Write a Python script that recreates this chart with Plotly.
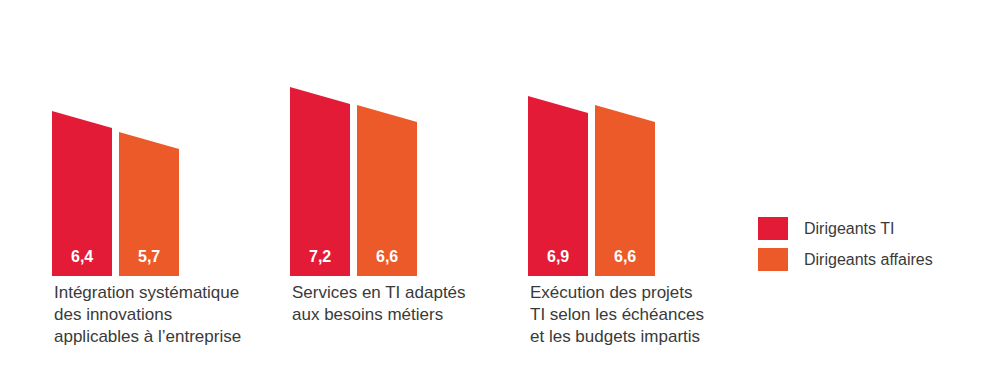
import plotly.graph_objects as go

categories = [
    "Intégration systématique<br>des innovations<br>applicables à l’entreprise",
    "Services en TI adaptés<br>aux besoins métiers",
    "Exécution des projets<br>TI selon les échéances<br>et les budgets impartis",
]
series_names = ["Dirigeants TI", "Dirigeants affaires"]
it_values = [6.4, 7.2, 6.9]
business_values = [5.7, 6.6, 6.6]
value_labels_it = ["6,4", "7,2", "6,9"]
value_labels_business = ["5,7", "6,6", "6,6"]

colors = ["#E31B37", "#EC5A2A"]
text_color = "#3a3a3a"
font_family = "Liberation Sans, Arial, sans-serif"

# layout constants (page has an 8px body offset)
OFF = 8
PLOT_H = 268
Y_MIN, Y_MAX = 0.9, 9.83
GROUP_START, GROUP_STEP = 52, 238
BAR_W, BAR_GAP = 60, 7
SLANT = 0.57


def py(screen_y):
    return 1 - (screen_y - OFF) / PLOT_H


fig = go.Figure()
annotations = []
series = [(it_values, value_labels_it), (business_values, value_labels_business)]
for gi, cat in enumerate(categories):
    gx = GROUP_START + gi * GROUP_STEP
    for si, (vals, labs) in enumerate(series):
        x0 = gx + si * (BAR_W + BAR_GAP)
        x1 = x0 + BAR_W
        v = vals[gi]
        fig.add_trace(go.Scatter(
            x=[x0, x0, x1, x1, x0],
            y=[Y_MIN, v, v - SLANT, Y_MIN, Y_MIN],
            fill="toself", fillcolor=colors[si], mode="lines",
            line=dict(width=0, color=colors[si]),
            name=series_names[si], showlegend=False, hoverinfo="skip",
        ))
        annotations.append(dict(
            x=(x0 + x1) / 2, y=py(256), xref="x", yref="paper",
            text=f"<b>{labs[gi]}</b>", showarrow=False,
            font=dict(color="white", size=16, family=font_family),
            xanchor="center", yanchor="middle",
        ))
    annotations.append(dict(
        x=gx, y=0, xref="x", yref="paper", text=cat, showarrow=False,
        xanchor="left", yanchor="top", align="left", yshift=-5,
        font=dict(color=text_color, size=17, family=font_family),
    ))

shapes = []
for si, name in enumerate(series_names):
    top = 217 + si * 31
    shapes.append(dict(
        type="rect", xref="x", yref="paper",
        x0=758, x1=788, y0=py(top + 23), y1=py(top),
        fillcolor=colors[si], line=dict(width=0),
    ))
    annotations.append(dict(
        x=802, y=py(top + 11.5), xref="x", yref="paper",
        text=name, showarrow=False, xanchor="left", yanchor="middle",
        font=dict(color=text_color, size=16, family=font_family),
    ))

fig.update_layout(
    width=1000, height=381,
    margin=dict(l=0, r=0, t=0, b=381 - PLOT_H),
    paper_bgcolor="white", plot_bgcolor="white",
    xaxis=dict(range=[OFF, 1000 + OFF], visible=False, fixedrange=True),
    yaxis=dict(range=[Y_MIN, Y_MAX], visible=False, fixedrange=True),
    annotations=annotations, shapes=shapes, showlegend=False,
)
fig.write_html("out.html")
